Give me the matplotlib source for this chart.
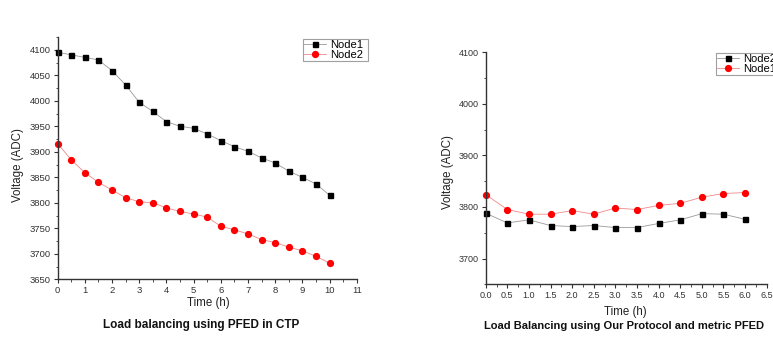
import matplotlib
matplotlib.use("Agg")
import matplotlib.pyplot as plt
from matplotlib.ticker import MultipleLocator

plt.rcParams['font.family'] = ['Liberation Sans', 'DejaVu Sans']

# Left chart: Load balancing using PFED in CTP
t_left = [0, 0.5, 1, 1.5, 2, 2.5, 3, 3.5, 4, 4.5, 5, 5.5, 6, 6.5, 7, 7.5, 8, 8.5, 9, 9.5, 10]
left_node1 = [4095, 4090, 4085, 4080, 4059, 4031, 3997, 3979, 3959, 3950, 3946, 3935, 3922,
              3910, 3901, 3888, 3878, 3862, 3850, 3837, 3815]
left_node2 = [3916, 3884, 3859, 3840, 3825, 3810, 3802, 3800, 3790, 3783, 3778, 3772, 3754,
              3747, 3739, 3728, 3722, 3713, 3706, 3695, 3682]

# Right chart: Load Balancing using Our Protocol and metric PFED
t_right = [0, 0.5, 1, 1.5, 2, 2.5, 3, 3.5, 4, 4.5, 5, 5.5, 6]
right_node2 = [3788, 3769, 3775, 3764, 3762, 3764, 3760, 3760, 3768, 3775, 3787, 3786, 3776]
right_node1 = [3824, 3795, 3786, 3786, 3793, 3786, 3798, 3795, 3803, 3807, 3819, 3826, 3828]

W, H = 773, 339
fig = plt.figure(figsize=(W / 100, H / 100), dpi=100)

def fx(px):
    return px / W

def fy(py):
    return 1 - py / H

def style_axes(ax, lsize):
    for s in ['top', 'right']:
        ax.spines[s].set_visible(False)
    for s in ['left', 'bottom']:
        ax.spines[s].set_color('#333333')
        ax.spines[s].set_linewidth(1.0)
    ax.tick_params(which='major', direction='out', length=3, width=0.8,
                   colors='#333333', labelsize=lsize, pad=2)
    ax.tick_params(which='minor', direction='out', length=1.8, width=0.6, colors='#333333')

blk_line = dict(color='#999999', lw=0.6, marker='s', ms=3.6, mfc='black', mec='black')
red_line = dict(color='#f08888', lw=0.6, marker='o', ms=4.2, mfc='#ff0000', mec='#ff0000')

# Left axes
axL = fig.add_axes([fx(57.7), fy(279.3), fx(356.7) - fx(57.7), fy(37) - fy(279.3)])
l1, = axL.plot(t_left, left_node1, label='Node1', **blk_line)
l2, = axL.plot(t_left, left_node2, label='Node2', **red_line)
axL.set_xlim(0, 11)
axL.set_ylim(3650, 4125)
axL.xaxis.set_major_locator(MultipleLocator(1))
axL.xaxis.set_minor_locator(MultipleLocator(0.5))
axL.set_yticks([3650, 3700, 3750, 3800, 3850, 3900, 3950, 4000, 4050, 4100])
axL.yaxis.set_minor_locator(MultipleLocator(25))
style_axes(axL, 6.8)
for ln in (l1, l2):
    ln.set_clip_on(False)

legL = fig.legend(handles=[l1, l2], loc='upper left',
                  bbox_to_anchor=(fx(303), fy(11), fx(368) - fx(303), fy(39) - fy(11)),
                  mode='expand', fontsize=8, frameon=True, fancybox=False,
                  borderpad=0.1, labelspacing=0.0, handlelength=2.0, handletextpad=0.3,
                  borderaxespad=0)
legL.get_frame().set_edgecolor('#888888')
legL.get_frame().set_linewidth(0.8)

fig.text(fx(208), fy(303), 'Time (h)', ha='center', va='center',
         fontsize=8.3, color='#222222')
fig.text(fx(18.5), fy(165), 'Voltage (ADC)', rotation=90, ha='center', va='center',
         fontsize=8.3, color='#222222')
fig.text(fx(201), fy(325), 'Load balancing using PFED in CTP', ha='center', va='center',
         fontsize=8.5, fontweight='bold', color='#111111')

# Right axes
axR = fig.add_axes([fx(485.7), fy(284.3), fx(766.7) - fx(485.7), fy(52.3) - fy(284.3)])
r2, = axR.plot(t_right, right_node2, label='Node2', **blk_line)
r1, = axR.plot(t_right, right_node1, label='Node1', **red_line)
axR.set_xlim(0, 6.5)
axR.set_ylim(3650, 4100)
axR.xaxis.set_major_locator(MultipleLocator(0.5))
axR.xaxis.set_minor_locator(MultipleLocator(0.25))
axR.set_yticks([3700, 3800, 3900, 4000, 4100])
axR.yaxis.set_minor_locator(MultipleLocator(50))
axR.xaxis.set_major_formatter(plt.FormatStrFormatter('%.1f'))
style_axes(axR, 6.5)
for ln in (r1, r2):
    ln.set_clip_on(False)

legR = fig.legend(handles=[r2, r1], loc='upper left',
                  bbox_to_anchor=(fx(716), fy(27.7), fx(781) - fx(716), fy(53) - fy(27.7)),
                  mode='expand', fontsize=8, frameon=True, fancybox=False,
                  borderpad=0.1, labelspacing=0.0, handlelength=2.0, handletextpad=0.3,
                  borderaxespad=0)
legR.get_frame().set_edgecolor('#888888')
legR.get_frame().set_linewidth(0.8)

fig.text(fx(625.7), fy(311.7), 'Time (h)', ha='center', va='center',
         fontsize=8.3, color='#222222')
fig.text(fx(448.5), fy(172), 'Voltage (ADC)', rotation=90, ha='center', va='center',
         fontsize=8.3, color='#222222')
fig.text(fx(624.5), fy(325.7), 'Load Balancing using Our Protocol and metric PFED', ha='center',
         va='center', fontsize=8.0, fontweight='bold', color='#111111')

fig.savefig('out.png', dpi=100)
